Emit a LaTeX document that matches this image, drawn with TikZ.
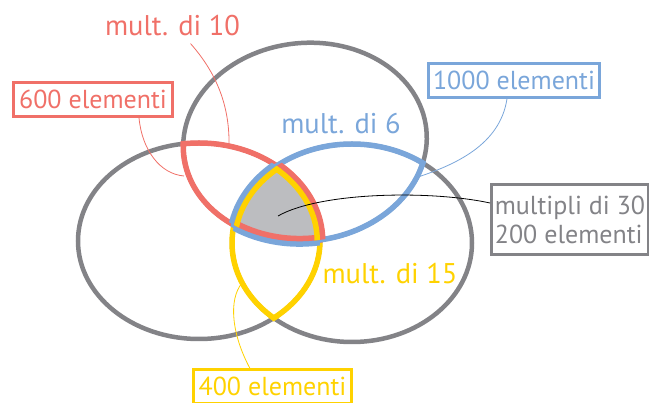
\documentclass[tikz,border=0pt]{standalone}
\usepackage{fontspec}
\setmainfont{PT Sans}
\definecolor{rosso}{HTML}{F07068}
\definecolor{azzurro}{HTML}{7AA6DA}
\definecolor{giallo}{HTML}{FFD200}
\definecolor{grigio}{HTML}{838387}
\definecolor{grigiochiaro}{HTML}{BCBDC0}
\newcommand{\ellA}{[rotate around={6:(305,142)}] (305,142) ellipse [x radius=122, y radius=99]}
\newcommand{\ellB}{(199,241) ellipse [x radius=121, y radius=98]}
\newcommand{\ellC}{(352,243) ellipse [x radius=120, y radius=99]}
\newcommand{\ellAl}{[rotate around={6:(305,142)}] (305,142) ellipse [x radius=124.75, y radius=101.75]}
\newcommand{\ellBl}{(199,241) ellipse [x radius=123.75, y radius=100.75]}
\newcommand{\ellCl}{(352,243) ellipse [x radius=122.75, y radius=101.75]}
\newcommand{\fuori}{(-50,-50) rectangle (700,450)}

\begin{document}
\begin{tikzpicture}[x=1pt, y=-1pt,
    insieme/.style={draw=grigio, line width=4.5pt},
    bordo/.style={line width=5.5pt},
    doppio/.style={line width=11pt},
    etichetta/.style={font=\fontsize{28.5}{32}\selectfont, inner sep=0pt, anchor=base},
    riquadro/.style={draw, line width=3pt, font=\fontsize{26}{29}\selectfont},
    scatola/.style={riquadro, text height=24pt, text depth=6pt, inner ysep=2pt, anchor=base},
    filo/.style={line width=0.8pt}]
    \useasboundingbox (0,0) rectangle (649,403);

    \draw[insieme] \ellA;
    \draw[insieme] \ellB;
    \draw[insieme] \ellC;

    \begin{scope}
        \clip \ellA; \clip \ellB;
        \fill[grigiochiaro] \ellC;
    \end{scope}

    \begin{scope}\clip \ellBl; \draw[bordo, giallo] \ellC; \end{scope}
    \begin{scope}\clip \ellCl; \draw[bordo, giallo] \ellB; \end{scope}
    \begin{scope}\clip \ellAl; \draw[bordo, rosso] \ellB; \end{scope}
    \begin{scope}\clip \ellBl; \draw[bordo, rosso] \ellA; \end{scope}
    \begin{scope}\clip \ellAl; \draw[bordo, azzurro] \ellC; \end{scope}
    \begin{scope}\clip \ellCl; \draw[bordo, azzurro] \ellA; \end{scope}

    \begin{scope}[even odd rule]
        \clip \fuori \ellA; \clip \ellB; \clip \ellC;
        \draw[doppio, azzurro] \ellA;
    \end{scope}
    \begin{scope}[even odd rule]
        \clip \fuori \ellB; \clip \ellA; \clip \ellC;
        \draw[doppio, rosso] \ellB;
    \end{scope}
    \begin{scope}[even odd rule]
        \clip \fuori \ellC; \clip \ellA; \clip \ellB;
        \draw[doppio, azzurro] \ellC;
    \end{scope}
    \begin{scope}
        \clip \ellA; \clip \ellB; \clip \ellC;
        \draw[doppio, rosso] \ellA;
        \draw[doppio, giallo] \ellB;
        \draw[doppio, giallo] \ellC;
    \end{scope}

    \node[etichetta, text=rosso] (m10) at (172.5,36) {mult. di 10};
    \node[etichetta, text=azzurro] (m6) at (341,134) {mult. di 6};
    \node[etichetta, text=giallo] (m15) at (390,284) {mult. di 15};

    \node[scatola, rosso, minimum width=159pt] (e600) at (93,108.3) {600 elementi};
    \node[scatola, azzurro, minimum width=171pt] (e1000) at (514,89.3) {1000 elementi};
    \node[scatola, giallo, minimum width=158pt] (e400) at (272.5,396) {400 elementi};
    \node[riquadro, grigio, align=left, minimum width=153.5pt, minimum height=70pt] (e200) at (570,219.5) {multipli di 30\\200 elementi};

    \coordinate (p10) at (229,146);
    \coordinate (p600) at (184,176);
    \coordinate (p1000) at (415,178);
    \coordinate (p400) at (242,283);
    \coordinate (p30) at (278,216);

    \draw[filo, rosso] ([xshift=18pt, yshift=-7pt]m10.south) .. controls (212,68) and (230,100) .. (p10);
    \draw[filo, rosso] ([xshift=46pt]e600.south) .. controls (142,150) and (160,174) .. (p600);
    \draw[filo, azzurro] ([xshift=-7pt]e1000.south) .. controls (500,145) and (455,165) .. (p1000);
    \draw[filo] ([yshift=16.5pt]e200.west) .. controls (430,190) and (320,192) .. (p30);
    \draw[filo, giallo] ([xshift=-22.5pt]e400.north) .. controls (232,335) and (228,300) .. (p400);
\end{tikzpicture}
\end{document}
